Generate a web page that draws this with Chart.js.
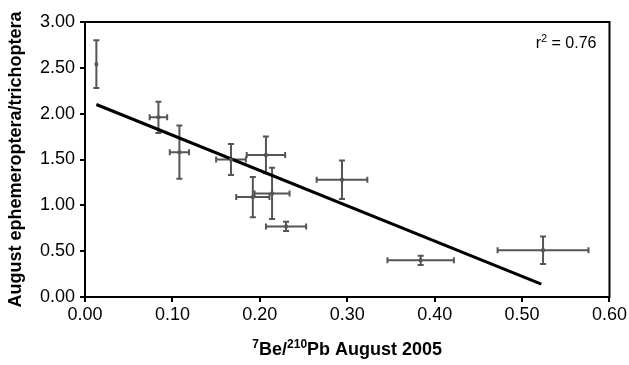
<!DOCTYPE html>
<html>
<head>
<meta charset="utf-8">
<script src="https://cdn.jsdelivr.net/npm/chart.js@4"></script>
<style>
  html, body { margin: 0; padding: 0; background: #fff; }
  #wrap { width: 629px; height: 365px; position: relative; }
</style>
</head>
<body>
<div id="wrap"><canvas id="c" width="629" height="365"></canvas></div>
<script>
// 7Be/210Pb ratio (x) vs ephemeroptera/trichoptera ratio (y), August 2005
const beRatio = [0.013, 0.084, 0.108, 0.167, 0.207, 0.192, 0.214, 0.230, 0.294, 0.384, 0.524];
const ephTri  = [2.54, 1.96, 1.58, 1.50, 1.55, 1.09, 1.13, 0.77, 1.28, 0.40, 0.51];
const xErr    = [0.000, 0.010, 0.011, 0.017, 0.022, 0.019, 0.020, 0.023, 0.029, 0.038, 0.052];
const yErr    = [0.26, 0.17, 0.29, 0.17, 0.20, 0.22, 0.28, 0.05, 0.21, 0.05, 0.15];

// regression line end points
const fitX = [0.013, 0.522];
const fitY = [2.10, 0.14];

const xTicks = [0, 0.1, 0.2, 0.3, 0.4, 0.5, 0.6];
const yTicks = [0, 0.5, 1, 1.5, 2, 2.5, 3];
const rSquaredValue = '0.76';

const FONT = '"Liberation Sans", Arial, sans-serif';
const BAR = '#555555';

// draws x/y error bars through the chart scales
const errorBars = {
  id: 'errorBars',
  beforeDatasetsDraw(chart) {
    const ctx = chart.ctx;
    const xs = chart.scales.x, ys = chart.scales.y;
    ctx.save();
    ctx.strokeStyle = BAR;
    ctx.lineWidth = 2;
    const cap = 3;
    beRatio.forEach((xv, i) => {
      const px = xs.getPixelForValue(xv), py = ys.getPixelForValue(ephTri[i]);
      if (yErr[i] > 0) {
        const t = ys.getPixelForValue(ephTri[i] + yErr[i]);
        const b = ys.getPixelForValue(ephTri[i] - yErr[i]);
        ctx.beginPath();
        ctx.moveTo(px, t); ctx.lineTo(px, b);
        ctx.moveTo(px - cap, t); ctx.lineTo(px + cap, t);
        ctx.moveTo(px - cap, b); ctx.lineTo(px + cap, b);
        ctx.stroke();
      }
      if (xErr[i] > 0) {
        const l = xs.getPixelForValue(xv - xErr[i]);
        const r = xs.getPixelForValue(xv + xErr[i]);
        ctx.beginPath();
        ctx.moveTo(l, py); ctx.lineTo(r, py);
        ctx.moveTo(l, py - cap); ctx.lineTo(l, py + cap);
        ctx.moveTo(r, py - cap); ctx.lineTo(r, py + cap);
        ctx.stroke();
      }
    });
    ctx.restore();
  }
};

// write text runs with superscripts, starting at x
function drawRuns(ctx, parts, x, base, big, small, rise) {
  parts.forEach(p => {
    ctx.font = p.sup ? small : big;
    ctx.fillText(p.t, x, p.sup ? base - rise : base);
    x += ctx.measureText(p.t).width;
  });
}
function runsWidth(ctx, parts, big, small) {
  let w = 0;
  parts.forEach(p => { ctx.font = p.sup ? small : big; w += ctx.measureText(p.t).width; });
  return w;
}

// frame, r² label and x-axis title with superscripts
const extras = {
  id: 'extras',
  afterDraw(chart) {
    const ctx = chart.ctx;
    const a = chart.chartArea;
    ctx.save();
    ctx.strokeStyle = '#000';
    ctx.lineWidth = 2;
    ctx.strokeRect(a.left, a.top, a.right - a.left, a.bottom - a.top);

    ctx.fillStyle = '#000';
    ctx.textBaseline = 'alphabetic';
    ctx.textAlign = 'left';

    // r² label
    const rParts = [{ t: 'r', sup: false }, { t: '2', sup: true }, { t: ' = ' + rSquaredValue, sup: false }];
    const rBig = '16px ' + FONT, rSmall = '11px ' + FONT;
    const rw = runsWidth(ctx, rParts, rBig, rSmall);
    drawRuns(ctx, rParts, a.right - 13 - rw, 48, rBig, rSmall, 6);

    // x title: 7Be/210Pb August 2005
    const parts = [
      { t: '7', sup: true }, { t: 'Be/', sup: false },
      { t: '210', sup: true }, { t: 'Pb August 2005', sup: false }
    ];
    const big = 'bold 18px ' + FONT, small = 'bold 12px ' + FONT;
    const w = runsWidth(ctx, parts, big, small);
    drawRuns(ctx, parts, (a.left + a.right) / 2 - w / 2, 355, big, small, 7);
    ctx.restore();
  }
};

new Chart(document.getElementById('c'), {
  type: 'scatter',
  data: {
    datasets: [
      {
        label: 'ratio',
        data: beRatio.map((x, i) => ({ x: x, y: ephTri[i] })),
        pointStyle: 'rect',
        pointRadius: 2.5,
        backgroundColor: BAR,
        borderColor: BAR,
        borderWidth: 0
      },
      {
        label: 'fit',
        type: 'line',
        data: fitX.map((x, i) => ({ x: x, y: fitY[i] })),
        borderColor: '#000',
        borderWidth: 3,
        pointRadius: 0,
        fill: false
      }
    ]
  },
  options: {
    responsive: false,
    animation: false,
    devicePixelRatio: 1,
    layout: { padding: { left: 0, top: 22, right: 18, bottom: 0 } },
    plugins: { legend: { display: false }, tooltip: { enabled: false } },
    scales: {
      x: {
        type: 'linear',
        min: 0, max: 0.6,
        afterBuildTicks: s => { s.ticks = xTicks.map(v => ({ value: v })); },
        afterFit: s => { s.height = 68; },
        grid: { drawOnChartArea: false, drawTicks: true, tickLength: 5, color: '#000', lineWidth: 2 },
        border: { display: true, color: '#000', width: 2 },
        ticks: {
          color: '#000',
          font: { family: FONT, size: 18 },
          padding: 2,
          maxRotation: 0,
          callback: v => v.toFixed(2)
        }
      },
      y: {
        type: 'linear',
        min: 0, max: 3,
        afterBuildTicks: s => { s.ticks = yTicks.map(v => ({ value: v })); },
        afterFit: s => { s.width = 85; },
        grid: { drawOnChartArea: false, drawTicks: true, tickLength: 5, color: '#000', lineWidth: 2 },
        border: { display: true, color: '#000', width: 2 },
        ticks: {
          color: '#000',
          font: { family: FONT, size: 18 },
          padding: 5,
          callback: v => v.toFixed(2)
        },
        title: {
          display: true,
          text: 'August ephemeroptera/trichoptera',
          color: '#000',
          font: { family: FONT, size: 18, weight: 'bold' },
          padding: { top: 5, bottom: 0 }
        }
      }
    }
  },
  plugins: [errorBars, extras]
});
</script>
</body>
</html>
